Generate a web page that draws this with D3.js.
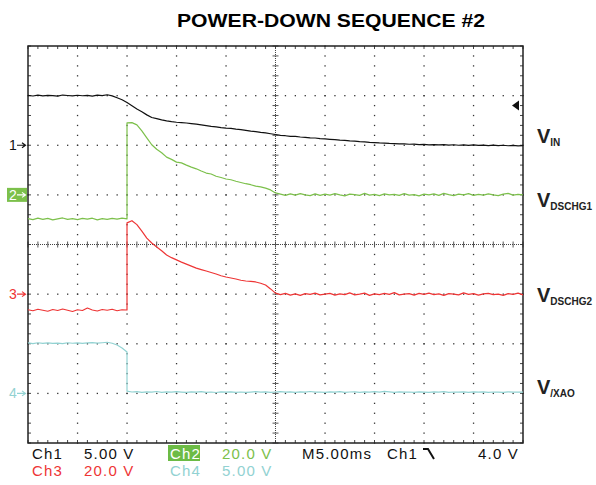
<!DOCTYPE html>
<html>
<head>
<meta charset="utf-8">
<script src="https://cdn.jsdelivr.net/npm/d3@7"></script>
<style>
    body { margin: 0; background: #fff; }
    svg { display: block; font-family: "Liberation Sans", Arial, sans-serif; }
</style>
</head>
<body>
<div id="scope"></div>
<script>
// sample times in ms (10 ms is listed twice so the edges come out vertical)
var timeMs = d3.range(0, 10.01, 0.5).concat(d3.range(10, 50.01, 0.5));

// channel 1, VIN, volts
var vin = [5.02, 4.96, 5.05, 4.97, 5.03, 5.00, 4.95, 5.06, 5.01, 4.97,
    5.04, 4.99, 5.02, 4.95, 5.05, 5.00, 5.09, 4.98, 4.78, 4.58, 4.30,
    4.30,
    3.98, 3.66, 3.38, 3.06, 2.80, 2.68, 2.56, 2.46, 2.38, 2.32,
    2.28, 2.24, 2.18, 2.12, 2.05, 1.98, 1.91, 1.86, 1.78, 1.72,
    1.70, 1.62, 1.58, 1.50, 1.42, 1.38, 1.30, 1.24, 1.16, 1.08,
    1.00, 0.96, 0.90, 0.89, 0.83, 0.80, 0.74, 0.73, 0.67, 0.64,
    0.60, 0.57, 0.52, 0.49, 0.44, 0.42, 0.36, 0.34, 0.29, 0.27,
    0.23, 0.22, 0.18, 0.17, 0.13, 0.14, 0.10, 0.11, 0.07, 0.08,
    0.04, 0.07, 0.03, 0.06, 0.01, 0.05, 0.00, 0.04, -0.01, 0.03,
    -0.02, 0.02, -0.03, 0.01, -0.04, 0.00, -0.05, -0.02, -0.06, -0.04];

// channel 2, VDSCHG1, volts
var vdschg1 = [-9.6, -10.0, -9.4, -9.9, -9.5, -10.1, -9.7, -9.3, -9.9, -9.6,
    -10.0, -9.5, -9.8, -9.4, -10.1, -9.6, -9.9, -9.5, -9.8, -9.4, -9.7,
    29.0,
    29.1, 28.2, 25.8, 23.0, 20.2, 18.4, 17.0, 15.2, 14.3, 13.2,
    12.9, 12.0, 11.2, 10.5, 9.6, 8.8, 8.4, 7.5, 7.0, 6.4,
    6.1, 5.5, 5.0, 4.5, 4.1, 3.5, 3.2, 2.7, 2.0, 0.8,
    0.3, -0.2, 0.4, -0.1, 0.5, 0.0, -0.3, 0.4, -0.2, 0.3,
    -0.1, 0.5, 0.0, -0.4, 0.3, 0.1, -0.2, 0.6, -0.1, 0.2,
    -0.3, 0.4, 0.0, 0.2, -0.2, 0.5, -0.1, 0.1, -0.4, 0.3,
    0.0, 0.4, -0.2, 0.6, 0.1, -0.3, 0.3, 0.0, 0.5, -0.2,
    0.2, -0.1, 0.4, 0.0, -0.3, 0.3, 0.6, -0.1, 0.2, 0.0];

// channel 3, VDSCHG2, volts
var vdschg2 = [-6.3, -6.7, -6.1, -6.5, -6.9, -6.2, -6.6, -6.0, -6.5, -7.0,
    -6.3, -6.6, -5.6, -6.4, -6.8, -6.2, -6.5, -6.1, -6.7, -6.3, -6.4,
    28.7,
    29.6, 28.0, 25.4, 22.6, 20.6, 19.0, 17.5, 15.8, 14.7, 13.8,
    12.9, 12.1, 11.3, 10.5, 9.9, 9.3, 8.7, 8.1, 7.4, 6.9,
    6.5, 6.1, 5.6, 5.3, 5.1, 4.9, 4.4, 3.7, 2.1, 0.4,
    -0.2, 0.3, -0.4, 0.1, -0.5, 0.2, -0.1, 0.4, -0.3, 0.0,
    0.3, -0.4, 0.1, -0.2, 0.5, -0.3, 0.0, 0.4, -0.5, 0.1,
    -0.2, 0.3, -0.1, 0.6, -0.3, 0.0, 0.2, -0.4, 0.3, -0.1,
    0.4, -0.2, 0.1, -0.5, 0.2, 0.0, -0.3, 0.5, -0.1, 0.2,
    -0.4, 0.1, 0.3, -0.2, 0.0, -0.5, 0.2, -0.1, 0.4, -0.3];

// channel 4, V/XAO, volts
var vxao = [5.08, 5.02, 5.10, 5.04, 5.09, 5.03, 5.07, 5.01, 5.10, 5.05,
    5.08, 5.03, 5.09, 5.12, 5.06, 5.10, 5.15, 5.05, 4.87, 4.57, 4.16,
    0.22,
    0.14, 0.18, 0.10, 0.16, 0.13, 0.19, 0.11, 0.15, 0.12, 0.17,
    0.13, 0.10, 0.16, 0.12, 0.18, 0.11, 0.14, 0.09, 0.15, 0.12,
    0.16, 0.11, 0.14, 0.10, 0.13, 0.17, 0.12, 0.15, 0.10, 0.14,
    0.18, 0.12, 0.15, 0.11, 0.16, 0.13, 0.19, 0.12, 0.14, 0.10,
    0.15, 0.12, 0.17, 0.11, 0.14, 0.16, 0.10, 0.15, 0.12, 0.18,
    0.13, 0.20, 0.16, 0.11, 0.15, 0.12, 0.14, 0.10, 0.16, 0.13,
    0.11, 0.15, 0.12, 0.17, 0.10, 0.14, 0.13, 0.16, 0.11, 0.15,
    0.12, 0.16, 0.10, 0.14, 0.13, 0.11, 0.15, 0.12, 0.14, 0.13];

// channel settings: ground marker position (divisions from centre) and volts per division
var channelNames = ["1", "2", "3", "4"];
var channelOffsets = [2, 1, -1, -3];
var voltsPerDiv = [5, 20, 20, 5];
var channelColors = ["#111111", "#7cc04b", "#ee3535", "#92d2d2"];
var traceLabels = ["IN", "DSCHG1", "DSCHG2", "/XAO"];
var triggerLevel = 4.0;

var width = 596, height = 485;
var plot = { left: 28, right: 523, top: 46, bottom: 443 };

var svg = d3.select("#scope").append("svg")
    .attr("width", width)
    .attr("height", height);

// time axis and division axis
var x = d3.scaleLinear().domain([0, 50]).range([plot.left, plot.right]);
var yDiv = d3.scaleLinear().domain([-4, 4]).range([plot.bottom, plot.top]);
var xDiv = d3.scaleLinear().domain([-5, 5]).range([plot.left, plot.right]);

function channelY(ch, v) {
    return yDiv(channelOffsets[ch] + v / voltsPerDiv[ch]);
}

// title
svg.append("text")
    .attr("x", 177)
    .attr("y", 27)
    .attr("textLength", 308)
    .attr("lengthAdjust", "spacingAndGlyphs")
    .style("font-size", "18.5px")
    .style("font-weight", "bold")
    .text("POWER-DOWN SEQUENCE #2");

// draw the graticule
function drawGrid() {
    var g = svg.append("g");
    var minor = d3.range(-50, 51).map(function(d) { return d / 10; });
    var minorY = d3.range(-40, 41).map(function(d) { return d / 10; });
    var bx = minor.filter(function(d, i) { return i % 2 == 0; });
    var by = minorY.filter(function(d, i) { return i % 2 == 0; });

    // dotted major lines, one dot per fifth of a division
    [-4, -3, -2, -1, 1, 2, 3, 4].forEach(function(dv) {
        g.selectAll(null)
            .data(by)
            .enter().append("rect")
            .attr("x", xDiv(dv) - 0.6)
            .attr("y", function(d) { return yDiv(d) - 0.6; })
            .attr("width", 1.3).attr("height", 1.3)
            .attr("fill", "#333");
    });
    [-3, -2, -1, 1, 2, 3].forEach(function(dv) {
        g.selectAll(null)
            .data(bx)
            .enter().append("rect")
            .attr("x", function(d) { return xDiv(d) - 0.6; })
            .attr("y", yDiv(dv) - 0.6)
            .attr("width", 1.3).attr("height", 1.3)
            .attr("fill", "#333");
    });

    // centre lines
    g.append("line")
        .attr("x1", plot.left).attr("x2", plot.right)
        .attr("y1", yDiv(0)).attr("y2", yDiv(0))
        .attr("stroke", "#444").attr("stroke-dasharray", "1,1");
    g.append("line")
        .attr("x1", xDiv(0)).attr("x2", xDiv(0))
        .attr("y1", plot.top).attr("y2", plot.bottom)
        .attr("stroke", "#444").attr("stroke-dasharray", "1,1");

    // ticks on the centre lines
    g.selectAll("line.cx")
        .data(bx)
        .enter().append("line")
        .attr("class", "cx")
        .attr("x1", function(d) { return xDiv(d); })
        .attr("x2", function(d) { return xDiv(d); })
        .attr("y1", yDiv(0) - 3).attr("y2", yDiv(0) + 3)
        .attr("stroke", "#555");
    g.selectAll("line.cy")
        .data(by)
        .enter().append("line")
        .attr("class", "cy")
        .attr("x1", xDiv(0) - 3).attr("x2", xDiv(0) + 3)
        .attr("y1", function(d) { return yDiv(d); })
        .attr("y2", function(d) { return yDiv(d); })
        .attr("stroke", "#555");

    // ticks along the border
    g.selectAll("line.bt")
        .data(bx).enter().append("line")
        .attr("x1", function(d) { return xDiv(d); })
        .attr("x2", function(d) { return xDiv(d); })
        .attr("y1", plot.top).attr("y2", plot.top + 3)
        .attr("stroke", "#444");
    g.selectAll("line.bb")
        .data(bx).enter().append("line")
        .attr("x1", function(d) { return xDiv(d); })
        .attr("x2", function(d) { return xDiv(d); })
        .attr("y1", plot.bottom).attr("y2", plot.bottom - 3)
        .attr("stroke", "#444");
    g.selectAll("line.bl")
        .data(by).enter().append("line")
        .attr("x1", plot.left).attr("x2", plot.left + 3)
        .attr("y1", function(d) { return yDiv(d); })
        .attr("y2", function(d) { return yDiv(d); })
        .attr("stroke", "#444");
    g.selectAll("line.br")
        .data(by).enter().append("line")
        .attr("x1", plot.right).attr("x2", plot.right - 3)
        .attr("y1", function(d) { return yDiv(d); })
        .attr("y2", function(d) { return yDiv(d); })
        .attr("stroke", "#444");

    // border
    g.append("rect")
        .attr("x", plot.left).attr("y", plot.top)
        .attr("width", plot.right - plot.left)
        .attr("height", plot.bottom - plot.top)
        .attr("fill", "none")
        .attr("stroke", "#222")
        .attr("stroke-width", 1.5);
}

// draw one trace
function drawTrace(ch, values) {
    var line = d3.line()
        .x(function(d, i) { return x(timeMs[i]); })
        .y(function(d) { return channelY(ch, d); });
    svg.append("path")
        .datum(values)
        .attr("d", line)
        .attr("fill", "none")
        .attr("stroke", channelColors[ch])
        .attr("stroke-width", 1.2)
        .attr("stroke-linejoin", "round");
}

// ground markers on the left
function drawMarkers() {
    channelNames.forEach(function(name, ch) {
        var yy = yDiv(channelOffsets[ch]);
        var col = ch == 1 ? "#fff" : channelColors[ch];
        if (ch == 1) {
            svg.append("rect")
                .attr("x", 7).attr("y", yy - 7)
                .attr("width", 20).attr("height", 14)
                .attr("fill", channelColors[1]);
        }
        svg.append("text")
            .attr("x", 9).attr("y", yy + 5)
            .style("font-size", "14px")
            .attr("fill", col)
            .text(name);
        svg.append("path")
            .attr("d", "M17," + yy + "H25M22," + (yy - 2.5) + "L25.5," + yy + "L22," + (yy + 2.5))
            .attr("fill", "none")
            .attr("stroke", col)
            .attr("stroke-width", 1.2);
    });

    // trigger level marker on the right
    var ty = channelY(0, triggerLevel);
    svg.append("path")
        .attr("d", "M512," + ty + "L519," + (ty - 5) + "L519," + (ty + 5) + "Z")
        .attr("fill", "#111");
}

// labels to the right of the traces
function drawTraceLabels() {
    var baselines = [143, 207, 302, 394];
    traceLabels.forEach(function(sub, i) {
        var t = svg.append("text")
            .attr("x", 537)
            .attr("y", baselines[i])
            .style("font-weight", "bold")
            .attr("fill", "#222");
        t.append("tspan").style("font-size", "20px").text("V");
        t.append("tspan").attr("dy", 3).style("font-size", "10px").text(sub);
    });
}

// readout below the screen
function drawReadout() {
    var rows = [
        [["Ch1", 32, "#111"], ["5.00 V", 84, "#111"], ["Ch2", 170, "#fff"], ["20.0 V", 222, channelColors[1]],
         ["M5.00ms", 302, "#111"], ["Ch1", 387, "#111"], ["4.0 V", 478, "#111"]],
        [["Ch3", 32, channelColors[2]], ["20.0 V", 84, channelColors[2]], ["Ch4", 170, channelColors[3]], ["5.00 V", 222, channelColors[3]]]
    ];
    var base = [459, 476];

    // highlighted Ch2 box
    svg.append("rect")
        .attr("x", 168).attr("y", 445)
        .attr("width", 32).attr("height", 16)
        .attr("fill", "#6cbb45");

    rows.forEach(function(row, r) {
        row.forEach(function(item) {
            svg.append("text")
                .attr("x", item[1])
                .attr("y", base[r])
                .style("font-size", "15px")
                .style("letter-spacing", "1.2px")
                .attr("fill", item[2])
                .text(item[0]);
        });
    });

    // falling edge trigger symbol
    svg.append("path")
        .attr("d", "M423,449H428L434,459")
        .attr("fill", "none")
        .attr("stroke", "#111")
        .attr("stroke-width", 2);
}

drawGrid();
drawTrace(0, vin);
drawTrace(1, vdschg1);
drawTrace(2, vdschg2);
drawTrace(3, vxao);
drawMarkers();
drawTraceLabels();
drawReadout();
</script>
</body>
</html>
